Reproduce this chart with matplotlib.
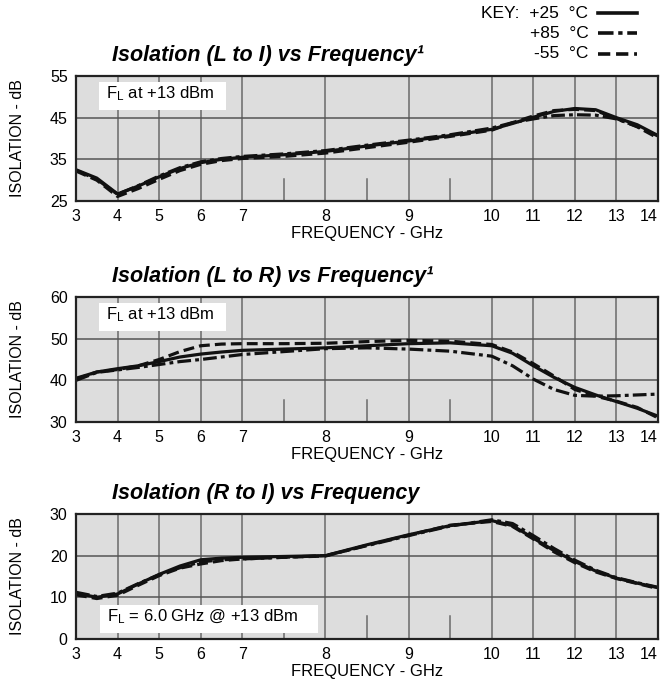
import numpy as np
import matplotlib
matplotlib.use('Agg')
import matplotlib.pyplot as plt
from matplotlib.lines import Line2D
from matplotlib.patches import Rectangle

plt.rcParams['font.family'] = ['Liberation Sans', 'DejaVu Sans']
plt.rcParams['mathtext.fontset'] = 'custom'
plt.rcParams['mathtext.rm'] = 'Liberation Sans Narrow'
NARROW = ['Liberation Sans Narrow', 'Liberation Sans', 'DejaVu Sans']

# 频率轴: 3-7GHz 和 10-14GHz 每格 1GHz, 7-10GHz 每格 0.5GHz
axis_freq = [3, 4, 5, 6, 7, 8, 9, 10, 11, 12, 13, 14]
axis_div = [0, 1, 2, 3, 4, 6, 8, 10, 11, 12, 13, 14]
grid_freq = [4, 5, 6, 7, 8, 9, 10, 11, 12, 13]
short_freq = [7.5, 8.5, 9.5]

freq = [3.0, 3.5, 4.0, 4.5, 5.0, 5.5, 6.0, 6.5, 7.0, 7.5, 8.0, 8.5,
        9.0, 9.5, 10.0, 10.5, 11.0, 11.5, 12.0, 12.5, 13.0, 13.5, 14.0]

# Isolation (L to I)
li_25 = [32.5, 30.5, 26.7, 28.6, 30.8, 32.8, 34.2, 35.0, 35.5, 36.1, 36.9, 38.2,
         39.4, 40.7, 42.2, 43.6, 45.1, 46.5, 47.2, 46.9, 45.0, 43.3, 40.7]
li_85 = [32.4, 30.2, 26.6, 28.7, 31.0, 33.0, 34.4, 35.2, 35.7, 36.3, 37.1, 38.4,
         39.6, 40.9, 42.5, 43.8, 44.7, 45.5, 45.7, 45.6, 44.7, 42.9, 40.6]
li_m55 = [32.2, 30.0, 26.1, 28.0, 30.2, 32.3, 33.8, 34.7, 35.2, 35.7, 36.5, 37.8,
          39.1, 40.5, 42.0, 43.8, 45.4, 46.7, 47.0, 46.7, 44.8, 42.8, 40.1]

# Isolation (L to R)
lr_25 = [40.5, 42.0, 42.8, 43.5, 44.5, 45.6, 46.3, 46.8, 47.2, 47.5, 47.8, 48.3,
         48.8, 49.0, 48.3, 46.5, 43.5, 40.7, 38.3, 36.5, 34.9, 33.3, 31.4]
lr_85 = [40.0, 41.9, 42.5, 43.1, 43.8, 44.5, 45.0, 45.6, 46.2, 46.9, 47.6, 47.8,
         47.5, 47.0, 45.8, 43.5, 40.3, 37.8, 36.4, 36.2, 36.3, 36.5, 36.7]
lr_m55 = [40.3, 42.0, 42.6, 43.5, 45.0, 46.9, 48.3, 48.7, 48.8, 48.8, 48.9, 49.3,
          49.6, 49.4, 48.6, 46.8, 44.0, 41.0, 37.8, 36.2, 35.0, 33.5, 31.0]

# Isolation (R to I)
ri_25 = [11.0, 10.0, 10.8, 13.2, 15.5, 17.5, 19.0, 19.4, 19.6, 19.8, 20.0, 22.6,
         25.0, 27.2, 28.4, 27.2, 24.2, 21.2, 18.6, 16.3, 14.6, 13.4, 12.3]
ri_85 = [11.2, 10.2, 11.0, 13.3, 15.4, 17.1, 18.5, 19.0, 19.2, 19.6, 20.0, 22.4,
         24.8, 27.1, 28.6, 27.7, 24.8, 21.7, 18.9, 16.5, 14.7, 13.5, 12.4]
ri_m55 = [10.6, 9.7, 10.5, 12.9, 15.2, 17.0, 18.0, 18.8, 19.2, 19.6, 19.9, 22.5,
          24.9, 27.3, 28.2, 27.0, 24.0, 20.9, 18.3, 16.1, 14.5, 13.3, 12.1]

key_labels = ['KEY:  +25  °C', '+85  °C', '-55  °C']
styles = ['-', (0, (4.3, 1.3, 1.2, 1.3)), (0, (3.4, 1.6))]


def fwd(x):
    return np.interp(x, axis_freq, axis_div)


def inv(p):
    return np.interp(p, axis_div, axis_freq)


def draw_panel(ax, title, y25, y85, ym55, yticks, note, note_box):
    ax.set_xscale('function', functions=(fwd, inv))
    ax.set_facecolor('#dddddd')
    ax.set_xlim(3, 14)
    ax.set_ylim(yticks[0], yticks[-1])
    ax.set_xticks(axis_freq)
    ax.set_xticklabels([str(f) for f in axis_freq], family=NARROW, fontsize=11.5)
    ax.get_xticklabels()[-1].set_horizontalalignment('right')  # 最右标签不出界
    ax.set_yticks(yticks)
    ax.set_yticklabels([str(v) for v in yticks], family=NARROW, fontsize=11.5)
    ax.tick_params(axis='x', length=0, pad=6)
    ax.tick_params(axis='y', length=0, pad=6)
    for f in grid_freq:
        ax.axvline(f, color='#6a6a6a', lw=1.1, zorder=1)
    for v in yticks[1:-1]:
        ax.axhline(v, color='#555555', lw=1.1, zorder=1)
    for f in short_freq:
        ax.axvline(f, ymin=0, ymax=0.18, color='#6a6a6a', lw=1.1, zorder=1)
    for spine in ax.spines.values():
        spine.set_color('#222222')
        spine.set_linewidth(1.6)
        spine.set_zorder(5)

    for y, ls in zip([y25, y85, ym55], styles):
        ax.plot(freq, y, color='#111111', lw=2.3, linestyle=ls, zorder=3)

    # 说明文字框
    x0, y0, w, h = note_box
    ax.add_patch(Rectangle((x0, y0), w, h, transform=ax.transAxes,
                           facecolor='white', edgecolor='none', zorder=4))
    ax.text(x0 + 0.012, y0 + h / 2 + 0.02, note, transform=ax.transAxes,
            ha='left', va='center', fontsize=12, family=NARROW, zorder=6)

    ax.set_xlabel('FREQUENCY - GHz', family=NARROW, fontsize=12, labelpad=1)
    ax.set_ylabel('ISOLATION - dB', fontsize=11.5)
    ax.yaxis.set_label_coords(-0.088, 0.5)

    pos = ax.get_position()
    ax.figure.text(0.17, pos.y1 + 0.015, title, fontsize=15.5, weight='bold',
                   style='italic', ha='left', va='bottom')


fig = plt.figure(figsize=(6.61, 6.87), dpi=100)
ax1 = fig.add_axes([0.115, 0.7074, 0.8805, 0.182])
ax2 = fig.add_axes([0.115, 0.3857, 0.8805, 0.182])
ax3 = fig.add_axes([0.115, 0.0699, 0.8805, 0.182])

draw_panel(ax1, 'Isolation (L to I) vs Frequency¹', li_25, li_85, li_m55,
           [25, 35, 45, 55], r'$\mathregular{F_L}$ at +13 dBm',
           (0.0395, 0.73, 0.218, 0.225))
draw_panel(ax2, 'Isolation (L to R) vs Frequency¹', lr_25, lr_85, lr_m55,
           [30, 40, 50, 60], r'$\mathregular{F_L}$ at +13 dBm',
           (0.0395, 0.73, 0.218, 0.225))
draw_panel(ax3, 'Isolation (R to I) vs Frequency', ri_25, ri_85, ri_m55,
           [0, 10, 20, 30], r'$\mathregular{F_L}$ = 6.0 GHz @ +13 dBm',
           (0.041, 0.048, 0.375, 0.225))

# 图例 KEY
key_y = [1 - 13 / 687, 1 - 33 / 687, 1 - 54 / 687]
for i in range(3):
    fig.text(0.89, key_y[i], key_labels[i], ha='right', va='center', fontsize=12.5)
    fig.add_artist(Line2D([0.904, 0.964], [key_y[i], key_y[i]], color='#111111',
                          lw=2.6, linestyle=styles[i], transform=fig.transFigure))

fig.savefig('out.png', dpi=100)
